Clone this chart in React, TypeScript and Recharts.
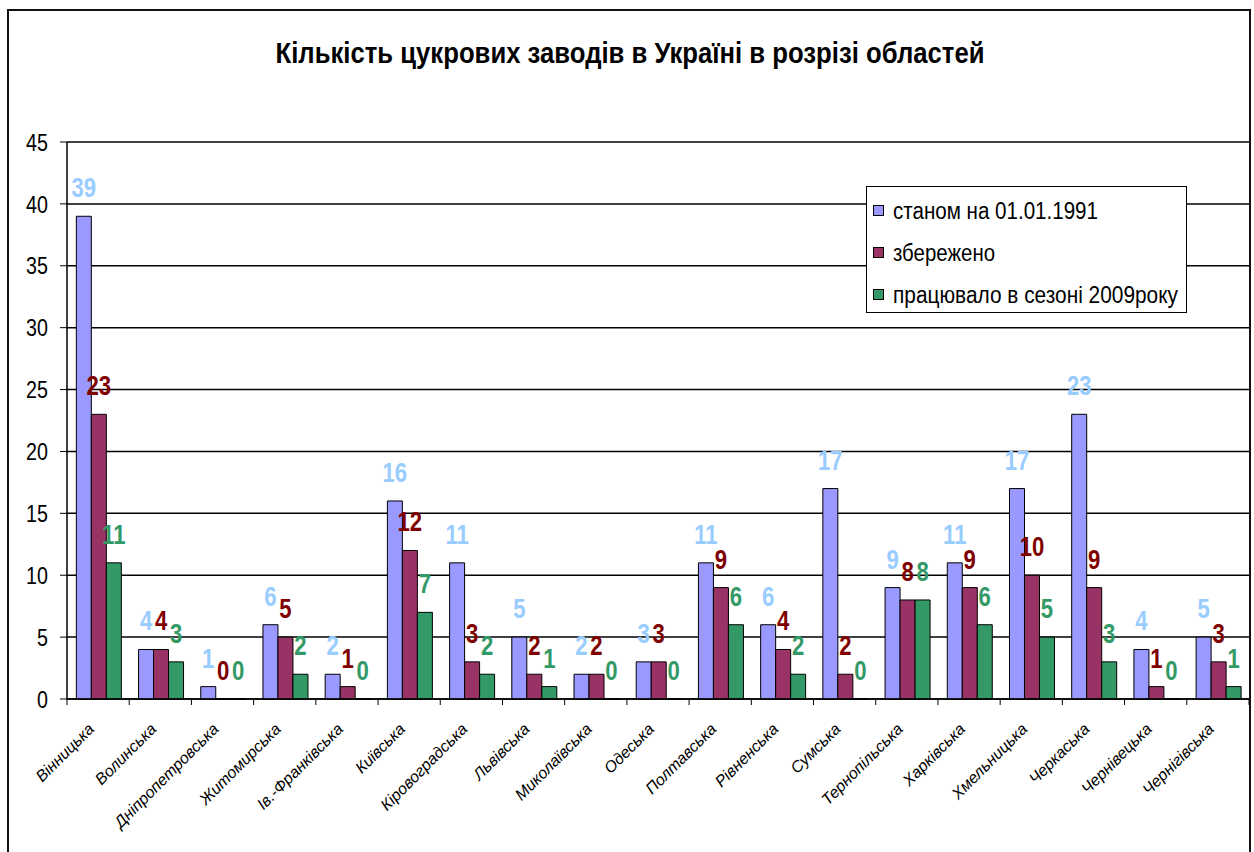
import React from 'react';
import { BarChart, Bar, XAxis, YAxis, CartesianGrid, Legend } from 'recharts';

const regions = [
  'Вінницька', 'Волинська', 'Дніпропетровська', 'Житомирська', 'Ів.-Франківська',
  'Київська', 'Кіровоградська', 'Львівська', 'Миколаївська', 'Одеська',
  'Полтавська', 'Рівненська', 'Сумська', 'Тернопільська', 'Харківська',
  'Хмельницька', 'Черкаська', 'Чернівецька', 'Чернігівська',
];
const in1991 = [39, 4, 1, 6, 2, 16, 11, 5, 2, 3, 11, 6, 17, 9, 11, 17, 23, 4, 5];
const preserved = [23, 4, 0, 5, 1, 12, 3, 2, 2, 3, 9, 4, 2, 8, 9, 10, 9, 1, 3];
const worked2009 = [11, 3, 0, 2, 0, 7, 2, 1, 0, 0, 6, 2, 0, 8, 6, 5, 3, 0, 1];
const yTicks = [0, 5, 10, 15, 20, 25, 30, 35, 40, 45];
const seriesNames = ['станом на 01.01.1991', 'збережено', 'працювало в сезоні 2009року'];
const titleText = 'Кількість цукрових заводів в Україні в розрізі областей';

const barColors = ['#9999FF', '#993366', '#339966'];
const labelColors = ['#99CCFF', '#800000', '#339966'];
const SANS = "'Liberation Sans', Arial, sans-serif";
const NARROW_SCALE = 0.82;

const data = regions.map((r, i) => ({ region: r, a: in1991[i], b: preserved[i], c: worked2009[i] }));

const narrowT = (cx: number, cy: number) =>
  `translate(${cx},${cy}) scale(${NARROW_SCALE},1) translate(${-cx},${-cy})`;

const makeLabel = (color: string) => (props: any) => {
  const { x, y, width, value } = props;
  const cx = Number(x) + Number(width) / 2;
  const cy = Number(y) - 19;
  return (
    <text
      x={cx}
      y={cy}
      transform={narrowT(cx, cy)}
      fill={color}
      textAnchor="middle"
      fontSize={27}
      fontWeight="bold"
      fontFamily={SANS}
    >
      {value}
    </text>
  );
};

const YTick = (props: any) => {
  const { x, y, payload } = props;
  return (
    <text
      x={x}
      y={y}
      dy="0.36em"
      transform={narrowT(x, y)}
      textAnchor="end"
      fontSize={24}
      fontFamily={SANS}
      fill="#000"
    >
      {payload.value}
    </text>
  );
};

const XTick = (props: any) => {
  const { x, y, payload, index, width } = props;
  const half = payload && payload.offset ? payload.offset : width / regions.length / 2;
  const tx = x - 3;
  const ty = y + 31;
  return (
    <g>
      <line x1={x - half} y1={y} x2={x - half} y2={y + 6} stroke="#000" strokeWidth={1} />
      {index === regions.length - 1 && (
        <line x1={x + half} y1={y} x2={x + half} y2={y + 6} stroke="#000" strokeWidth={1} />
      )}
      <text
        x={tx}
        y={ty}
        transform={`rotate(-45, ${tx}, ${ty})`}
        textAnchor="end"
        fontStyle="italic"
        fontSize={16}
        fontFamily={SANS}
        fill="#000"
      >
        {payload.value}
      </text>
    </g>
  );
};

const legendTextLengths = [205, 102, 285];

const LegendBox = () => (
  <div
    style={{
      width: 321,
      height: 127,
      boxSizing: 'border-box',
      border: '1px solid #000',
      background: '#fff',
    }}
  >
    <svg width={319} height={125} style={{ display: 'block', overflow: 'visible' }}>
      {seriesNames.map((n, i) => {
        const cy = 24 + i * 42;
        return (
          <g key={n}>
            <rect x={6.5} y={cy - 5.5} width={10} height={10} fill={barColors[i]} stroke="#000" strokeWidth={1} />
            <text
              x={26}
              y={cy}
              dy="0.36em"
              fontSize={23}
              fontFamily={SANS}
              fill="#000"
              textLength={legendTextLengths[i]}
              lengthAdjust="spacingAndGlyphs"
            >
              {n}
            </text>
          </g>
        );
      })}
    </svg>
  </div>
);

export default function App() {
  return (
    <div style={{ position: 'absolute', left: 0, top: 0, width: 1254, height: 852, overflow: 'hidden', background: '#fff' }}>
      <div
        style={{
          position: 'absolute',
          left: 7,
          top: 9,
          width: 1244,
          height: 900,
          boxSizing: 'border-box',
          border: '2px solid #111',
        }}
      />
      <svg style={{ position: 'absolute', left: 0, top: 0 }} width={1254} height={100}>
        <text
          x={630}
          y={63}
          textAnchor="middle"
          fontSize={29}
          fontWeight="bold"
          fontFamily={SANS}
          fill="#000"
          textLength={709}
          lengthAdjust="spacingAndGlyphs"
        >
          {titleText}
        </text>
      </svg>
      <div style={{ position: 'absolute', left: 0, top: 0 }}>
        <BarChart
          width={1254}
          height={852}
          data={data}
          margin={{ top: 142, right: 5, left: 0, bottom: 0 }}
          barCategoryGap="15%"
          barGap={0}
        >
          <CartesianGrid vertical={false} stroke="#000" strokeWidth={1.5} />
          <XAxis
            dataKey="region"
            height={153}
            interval={0}
            tickSize={0}
            tickMargin={0}
            tickLine={false}
            axisLine={{ stroke: '#000', strokeWidth: 1.5 }}
            tick={<XTick />}
          />
          <YAxis
            width={67}
            domain={[0, 45]}
            ticks={yTicks}
            interval={0}
            tickSize={7}
            tickMargin={12}
            axisLine={{ stroke: '#000', strokeWidth: 1.5 }}
            tickLine={{ stroke: '#000' }}
            tick={<YTick />}
          />
          <Legend
            layout="vertical"
            align="center"
            verticalAlign="middle"
            wrapperStyle={{ left: 866, top: 186, width: 321, height: 127 }}
            content={() => <LegendBox />}
          />
          <Bar dataKey="a" name={seriesNames[0]} fill={barColors[0]} stroke="#000" strokeWidth={1} minPointSize={0.01} isAnimationActive={false} label={makeLabel(labelColors[0])} />
          <Bar dataKey="b" name={seriesNames[1]} fill={barColors[1]} stroke="#000" strokeWidth={1} minPointSize={0.01} isAnimationActive={false} label={makeLabel(labelColors[1])} />
          <Bar dataKey="c" name={seriesNames[2]} fill={barColors[2]} stroke="#000" strokeWidth={1} minPointSize={0.01} isAnimationActive={false} label={makeLabel(labelColors[2])} />
        </BarChart>
      </div>
    </div>
  );
}
